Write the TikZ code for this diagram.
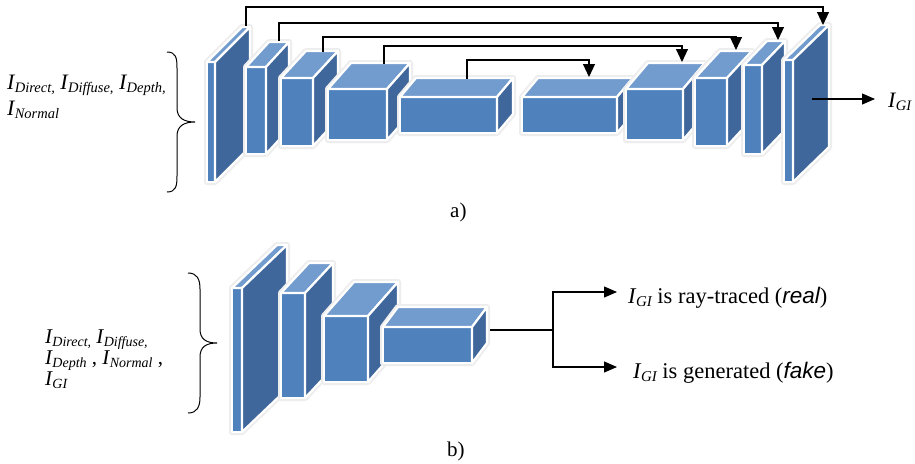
\documentclass[tikz,border=0pt]{standalone}
\usepackage{fontspec}
\setmainfont{Liberation Serif}
\newfontfamily\sansit{Liberation Sans}
\usetikzlibrary{arrows.meta}
\definecolor{frontc}{RGB}{79,129,189}
\definecolor{topc}{RGB}{114,155,206}
\definecolor{sidec}{RGB}{64,103,155}
\tikzset{
  glow/.style={draw=black!7, line width=6pt, line join=round, fill=white},
  face/.style={draw=white, line width=2.2pt, line join=round},
  skip/.style={draw=black, line width=1.1pt, -{Triangle[length=13pt,width=12pt]}},
  conn/.style={draw=black, line width=1.1pt},
  arr/.style={draw=black, line width=1.1pt, -{Triangle[length=13pt,width=11pt]}},
  lbl/.style={inner sep=0pt, anchor=base west, align=left},
}
% x y w h dx dy
\newcommand\cubebox[6]{%
  \path[glow] (#1,{#2+#4}) -- (#1,#2) -- ({#1+#5},{#2-#6}) -- ({#1+#3+#5},{#2-#6})
     -- ({#1+#3+#5},{#2+#4-#6}) -- ({#1+#3},{#2+#4}) -- cycle;
  \path[face, fill=frontc] (#1,#2) rectangle ({#1+#3},{#2+#4});
  \path[face, fill=topc] (#1,#2) -- ({#1+#5},{#2-#6}) -- ({#1+#3+#5},{#2-#6}) -- ({#1+#3},#2) -- cycle;
  \path[face, fill=sidec] ({#1+#3},#2) -- ({#1+#3+#5},{#2-#6}) -- ({#1+#3+#5},{#2+#4-#6}) -- ({#1+#3},{#2+#4}) -- cycle;
}
\newcommand\Isb[2][14.5]{{\itshape I}\kern0.3pt\raisebox{-3pt}{\fontsize{#1}{#1}\selectfont\itshape #2}}
\begin{document}
\begin{tikzpicture}[x=1pt,y=-1pt]
\useasboundingbox (0,0) rectangle (915,463);
\fill[white] (0,0) rectangle (915,463);

% ---------- a) encoder-decoder ----------
\cubebox{207}{62}{8}{120}{35}{35}
\cubebox{246}{67}{20}{87}{23}{25}
\cubebox{281}{78}{32}{68}{25}{27}
\cubebox{328}{89}{59}{51}{23}{26}
\cubebox{400}{97}{97}{36}{16}{19}
\cubebox{522}{97}{95}{36}{16}{19}
\cubebox{626}{89}{57}{51}{22}{26}
\cubebox{695}{78}{32}{68}{25}{27}
\cubebox{744}{65}{18}{89}{23}{24}
\cubebox{784}{60}{9}{122}{36}{35}

\coordinate (s1a) at (246,26); \coordinate (s1b) at (823,25);
\coordinate (s2a) at (279,41); \coordinate (s2b) at (778,40);
\coordinate (s3a) at (323,52); \coordinate (s3b) at (736,50);
\coordinate (s4a) at (384,64); \coordinate (s4b) at (682,62);
\coordinate (s5a) at (467,79); \coordinate (s5b) at (589,77);
\draw[skip] (s1a) -- ++(0,-19) -| (s1b);
\draw[skip] (s2a) -- ++(0,-18) -| (s2b);
\draw[skip] (s3a) -- ++(0,-15) -| (s3b);
\draw[skip] (s4a) -- ++(0,-18) -| (s4b);
\draw[skip] (s5a) -- ++(0,-19) -| (s5b);

\node[lbl, font=\fontsize{22}{26}\selectfont] (in1) at (7,89) {\Isb{Direct,} \Isb{Diffuse,} \Isb{Depth,}};
\node[lbl, font=\fontsize{22}{26}\selectfont] (in2) at (7,115) {\Isb{Normal}};
\draw[line width=1pt] (167,52) .. controls (176,52) and (177,58) .. (177,68) -- (177,108)
   .. controls (177,118) and (184,122) .. (195,122)
   .. controls (184,122) and (177,126) .. (177,136) -- (177,176)
   .. controls (177,186) and (176,192) .. (167,192);

\coordinate (outa) at (812,99);
\node[lbl, font=\fontsize{22}{26}\selectfont] (igi) at (888,107) {\Isb{GI}};
\draw[arr] (outa) -- (875,99);

\node[lbl, font=\fontsize{21}{24}\selectfont] (la) at (450,217) {a)};

% ---------- b) discriminator ----------
\cubebox{232}{288}{10}{144}{45}{43}
\cubebox{281}{293}{24}{105}{28}{30}
\cubebox{324}{316}{44}{66}{30}{34}
\cubebox{383}{327}{89}{36}{15}{20}

\draw[line width=1pt] (188,273) .. controls (197,273) and (200,279) .. (200,289) -- (200,329)
   .. controls (200,339) and (206,343) .. (217,343)
   .. controls (206,343) and (200,347) .. (200,357) -- (200,397)
   .. controls (200,407) and (197,413) .. (188,413);

\node[lbl, font=\fontsize{21}{24}\selectfont] (b1) at (45,343) {\Isb[14]{Direct,} \Isb[14]{Diffuse,}};
\node[lbl, font=\fontsize{21}{24}\selectfont] (b2) at (45,364) {\Isb[14]{Depth} , \Isb[14]{Normal} ,};
\node[lbl, font=\fontsize{21}{24}\selectfont] (b3) at (45,385) {\Isb[14]{GI}};

\coordinate (bout) at (490,330);
\coordinate (bj) at (553,330);
\coordinate (t1) at (617,292);
\coordinate (t2) at (617,367);
\draw[conn] (bout) -- (bj);
\draw[arr] (bj) |- (t1);
\draw[arr] (bj) |- (t2);
\node[lbl, font=\fontsize{22.5}{26}\selectfont] (real) at (628,303) {\Isb[15]{GI} is ray-traced ({\sansit\itshape real})};
\node[lbl, font=\fontsize{22.5}{26}\selectfont] (fake) at (633,378) {\Isb[15]{GI} is generated ({\sansit\itshape fake})};

\node[lbl, font=\fontsize{21}{24}\selectfont] (lb) at (447,456) {b)};
\end{tikzpicture}
\end{document}
